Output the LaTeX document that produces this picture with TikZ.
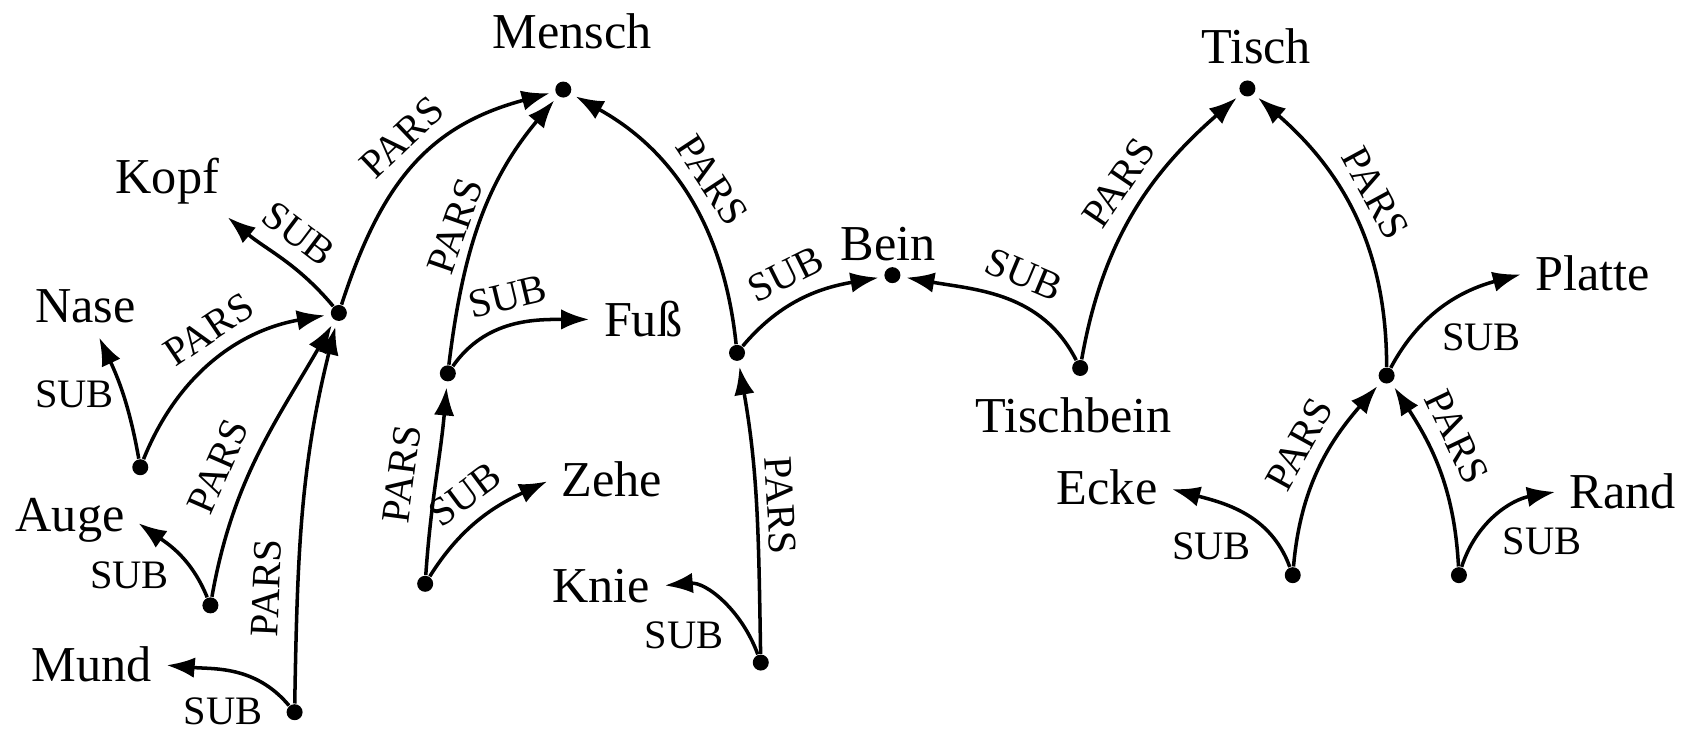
\documentclass[tikz,border=0pt]{standalone}
\usepackage{fontspec}
\setmainfont{Liberation Serif}
\usetikzlibrary{arrows.meta}
\tikzset{>={Latex[length=8pt,width=5.8pt]}}
\tikzstyle{dot}=[circle,fill=black,inner sep=0pt,minimum size=0.16cm]
\tikzstyle{word}=[inner sep=2.5pt,font=\fontsize{14.3}{17}\selectfont]
\tikzstyle{rel}=[inner sep=2pt,font=\fontsize{11.5}{13}\selectfont]
\tikzstyle{along}=[rel,sloped,above,inner sep=4pt]
\tikzstyle{link}=[->,line width=1pt,shorten >=1.5pt]

\begin{document}
\begin{tikzpicture}[x=0.01079cm,y=0.01079cm]
  \useasboundingbox (0,0) rectangle (1568,681);

  % POINTS
  \node[dot] (mensch)   at ( 522,598) {};
  \node[dot] (tisch)    at (1156,599) {};
  \node[dot] (bein)     at ( 827,426) {};
  \node[dot] (kopfpt)   at ( 314,391) {}; % head
  \node[dot] (nasept)   at ( 130,248) {};
  \node[dot] (augept)   at ( 195,120) {};
  \node[dot] (mundpt)   at ( 273, 21) {};
  \node[dot] (fusspt)   at ( 415,335) {}; % foot
  \node[dot] (zehept)   at ( 394,140) {};
  \node[dot] (beinpt)   at ( 683,354) {}; % leg of a man
  \node[dot] (kniept)   at ( 705, 67) {};
  \node[dot] (tbein)    at (1001,340) {}; % leg of a table
  \node[dot] (plattept) at (1285,333) {};
  \node[dot] (eckept)   at (1198,148) {};
  \node[dot] (randpt)   at (1352,148) {};

  % WORDS
  \node[word] (wmensch) at ( 530,652) {Mensch};
  \node[word] (wtisch)  at (1164,638) {Tisch};
  \node[word] (wbein)   at ( 823,455) {Bein};
  \node[word] (wtbein)  at ( 995,296) {Tischbein};
  \node[word] (kopf)    at ( 155,513) {Kopf};
  \node[word] (nase)    at (  79,397) {Nase};
  \node[word] (auge)    at (  65,199) {Auge};
  \node[word] (mund)    at (  85, 65) {Mund};
  \node[word] (fuss)    at ( 596,385) {Fuß};
  \node[word] (zehe)    at ( 567,237) {Zehe};
  \node[word] (knie)    at ( 557,138) {Knie};
  \node[word] (platte)  at (1476,428) {Platte};
  \node[word] (ecke)    at (1026,229) {Ecke};
  \node[word] (rand)    at (1504,226) {Rand};

  % MENSCH
  \draw[link] (kopfpt) to[out=130,in=-40] node[along] {SUB} (kopf.-30);
  \draw[link] (kopfpt) to[out=72,in=195,looseness=1.1] node[along,pos=0.53] {PARS} (mensch);
  \draw[link] (nasept) to[out=100,in=-65] node[rel,left] {SUB} (nase.-66);
  \draw[link] (nasept) to[out=68,in=190] node[along,pos=0.55] {PARS} (kopfpt);
  \draw[link] (augept) to[out=112,in=-35] node[rel,below left,pos=0.5] {SUB} (auge.east);
  \draw[link] (augept) to[out=80,in=240] node[along,pos=0.4,inner sep=4.5pt] {PARS} (kopfpt);
  \draw[link] (mundpt) to[out=130,in=-5] node[rel,below left,pos=0.17] {SUB} (mund.east);
  \draw[link] (mundpt) to[out=89,in=256] node[along,pos=0.28,inner sep=4.5pt] {PARS} (kopfpt);
  \draw[link] (fusspt) to[out=83,in=230] node[along,pos=0.45,inner sep=2pt] {PARS} (mensch);
  \draw[link] (fusspt) to[out=55,in=180] node[along,pos=0.5] {SUB} (fuss.west);
  \draw[link] (zehept) to[out=86,in=265] node[along,inner sep=5.5pt] {PARS} (fusspt);
  \draw[link] (zehept) to[out=58,in=205] node[along,pos=0.5] {SUB} (zehe.west);
  \draw[link] (beinpt) to[out=96,in=-29] node[along] {PARS} (mensch);
  \draw[link] (beinpt) to[out=50,in=190] node[along,pos=0.45] {SUB} (bein);
  \draw[link] (kniept) to[out=91,in=-80] node[along,inner sep=2.5pt] {PARS} (beinpt);
  \draw[link] (kniept) to[out=110,in=5] node[rel,below left,pos=0.37] {SUB} (knie.east);

  % TISCH
  \draw[link] (tbein) to[out=117,in=-10] node[along,pos=0.45] {SUB} (bein);
  \draw[link] (tbein) to[out=80,in=221] node[along,pos=0.55] {PARS} (tisch);
  \draw[link] (plattept) to[out=90,in=-41] node[along,pos=0.53] {PARS} (tisch);
  \draw[link] (plattept) to[out=62,in=195] node[rel,below right,pos=0.4] {SUB} (platte.west);
  \draw[link] (eckept) to[out=85,in=229] node[along,pos=0.55] {PARS} (plattept);
  \draw[link] (eckept) to[out=110,in=-15] node[rel,below left,pos=0.35] {SUB} (ecke.east);
  \draw[link] (randpt) to[out=93,in=-57] node[along,pos=0.62] {PARS} (plattept);
  \draw[link] (randpt) to[out=72,in=190] node[rel,below right,pos=0.45] {SUB} (rand.west);
\end{tikzpicture}
\end{document}
